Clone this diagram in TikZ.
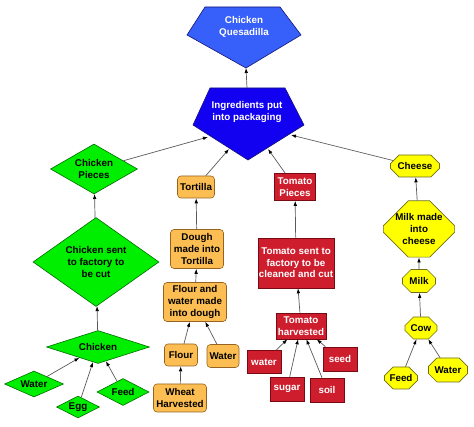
\documentclass[tikz,border=0pt]{standalone}
\usepackage{fontspec}
\setmainfont{Liberation Sans}
\usetikzlibrary{shapes.geometric,shapes.misc,arrows.meta}
\definecolor{bluelight}{RGB}{55,95,250}
\definecolor{bluedeep}{RGB}{18,0,240}
\definecolor{bluebd}{RGB}{20,20,120}
\definecolor{grn}{RGB}{0,238,0}
\definecolor{grnbd}{RGB}{0,110,0}
\definecolor{org}{RGB}{252,190,82}
\definecolor{orgbd}{RGB}{150,100,30}
\definecolor{rd}{RGB}{206,30,46}
\definecolor{rdbd}{RGB}{120,10,20}
\definecolor{ylw}{RGB}{255,255,0}
\definecolor{ylwbd}{RGB}{110,110,30}
\definecolor{lnk}{RGB}{90,90,90}
\begin{document}
\begin{tikzpicture}[x=1pt,y=-1pt,
  lbl/.style={font=\bfseries\fontsize{9.8}{11.6}\selectfont,align=center,inner sep=0pt},
  dia/.style={lbl,diamond,draw=grnbd,fill=grn,line width=0.6pt},
  box/.style={lbl,rectangle,rounded corners=3.5pt,draw=orgbd,fill=org,line width=0.6pt},
  rbox/.style={lbl,rectangle,draw=rdbd,fill=rd,text=white,line width=0.6pt},
  oct/.style={lbl,chamfered rectangle,chamfered rectangle xsep=5pt,chamfered rectangle ysep=5pt,draw=ylwbd,fill=ylw,line width=0.6pt},
  pent/.style={draw=bluebd,line width=0.6pt},
  link/.style={draw=lnk,line width=0.7pt,-{Latex[length=5pt,width=3.6pt,color=black]}}]
\useasboundingbox (0,0) rectangle (474,427);
\fill[white] (0,0) rectangle (474,427);

% pentagons
\filldraw[pent,fill=bluelight] (205,7) -- (280,7) -- (301,35) -- (246,68) -- (187,35) -- cycle;
\filldraw[pent,fill=bluedeep] (210,88) -- (285,88) -- (304,125) -- (248,160) -- (193,125) -- cycle;
\node[lbl,text=white] (ques) at (244,27) {Chicken\\Quesadilla};
\node[lbl,text=white] (ing) at (247,112) {Ingredients put\\into packaging};
\coordinate (quesBot) at (246,68);
\coordinate (ingTop) at (247,88);
\coordinate (ingA) at (208,137);
\coordinate (ingB) at (229,149);
\coordinate (ingC) at (268,149);
\coordinate (ingD) at (291,135);

% chicken branch
\node[dia,minimum width=87pt,minimum height=50pt,aspect=1.74] (cpieces) at (94,169) {Chicken\\Pieces};
\node[dia,minimum width=126pt,minimum height=89pt,aspect=1.42] (cfact) at (96,262) {Chicken sent\\to factory to\\be cut};
\node[dia,minimum width=103pt,minimum height=33pt,aspect=3.1] (chick) at (98,347) {Chicken};
\node[dia,minimum width=59pt,minimum height=26pt,aspect=2.27] (cwater) at (34,384) {Water};
\node[dia,minimum width=43pt,minimum height=22pt,aspect=1.95] (cegg) at (78,407) {Egg};
\node[dia,minimum width=52pt,minimum height=27pt,aspect=1.93] (cfeed) at (123,392) {Feed};

% tortilla branch
\node[box,minimum width=37pt,minimum height=22pt] (tort) at (196,187) {Tortilla};
\node[box,minimum width=53pt,minimum height=39pt] (dough) at (197,249) {Dough\\made into\\Tortilla};
\node[box,minimum width=63pt,minimum height=39pt] (fw) at (195,302) {Flour and\\water made\\into dough};
\node[box,minimum width=33pt,minimum height=22pt] (flour) at (181,355) {Flour};
\node[box,minimum width=32pt,minimum height=23pt] (twater) at (223,356) {Water};
\node[box,minimum width=53pt,minimum height=28pt] (wheat) at (180,398) {Wheat\\Harvested};

% tomato branch
\node[rbox,minimum width=41pt,minimum height=27pt] (tomp) at (295,187) {Tomato\\Pieces};
\node[rbox,minimum width=76pt,minimum height=50pt] (toms) at (296,263) {Tomato sent to\\factory to be\\cleaned and cut};
\node[rbox,minimum width=50pt,minimum height=26pt] (tomh) at (301,326) {Tomato\\harvested};
\node[rbox,minimum width=34pt,minimum height=23pt] (rwater) at (264,362) {water};
\node[rbox,minimum width=34pt,minimum height=24pt] (rseed) at (340,359) {seed};
\node[rbox,minimum width=34pt,minimum height=24pt] (rsugar) at (287,389) {sugar};
\node[rbox,minimum width=34pt,minimum height=24pt] (rsoil) at (327,390) {soil};

% cheese branch
\node[oct,minimum width=49pt,minimum height=22pt] (cheese) at (415,166) {Cheese};
\node[oct,chamfered rectangle xsep=12pt,chamfered rectangle ysep=13pt,minimum width=67pt,minimum height=51pt] (mmc) at (419,229) {Milk made\\into\\cheese};
\node[oct,minimum width=33pt,minimum height=23pt] (milk) at (419,281) {Milk};
\node[oct,minimum width=32pt,minimum height=22pt] (cow) at (421,328) {Cow};
\node[oct,minimum width=33pt,minimum height=22pt] (yfeed) at (401,378) {Feed};
\node[oct,minimum width=39pt,minimum height=24pt] (ywater) at (448,370) {Water};

% connectors
\draw[link] (ingTop) -- (quesBot);
\draw[link] (cpieces) -- (ingA);
\draw[link] (tort) -- (ingB);
\draw[link] (tomp) -- (ingC);
\draw[link] (cheese) -- (ingD);

\draw[link] (cfact) -- (cpieces);
\draw[link] (chick) -- (cfact);
\draw[link] (cwater) -- (chick);
\draw[link] (cegg) -- (chick);
\draw[link] (cfeed) -- (chick);

\draw[link] (dough) -- (tort);
\draw[link] (fw) -- (dough);
\draw[link] (flour) -- (fw);
\draw[link] (twater) -- (fw);
\draw[link] (wheat) -- (flour);

\draw[link] (toms) -- (tomp);
\draw[link] (tomh) -- (toms);
\draw[link] (rwater) -- (tomh);
\draw[link] (rsugar) -- (tomh);
\draw[link] (rsoil) -- (tomh);
\draw[link] (rseed) -- (tomh);

\draw[link] (mmc) -- (cheese);
\draw[link] (milk) -- (mmc);
\draw[link] (cow) -- (milk);
\draw[link] (yfeed) -- (cow);
\draw[link] (ywater) -- (cow);
\end{tikzpicture}
\end{document}
